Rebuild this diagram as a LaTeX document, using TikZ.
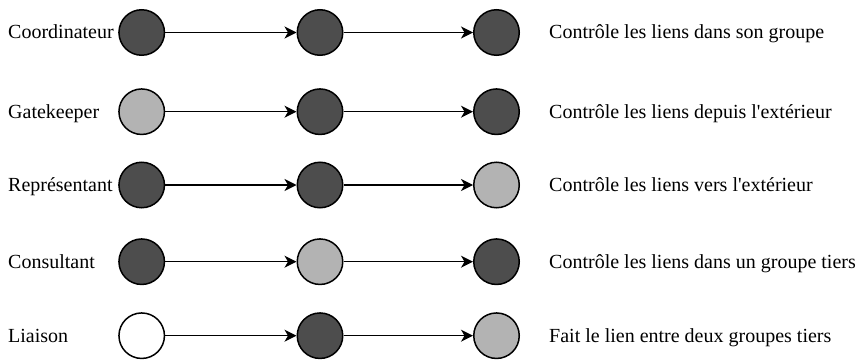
\documentclass[tikz,border=0pt]{standalone}
\usepackage{fontspec}
\setmainfont{Liberation Serif}
\usetikzlibrary{arrows.meta}
\definecolor{dk}{HTML}{4D4D4D}
\definecolor{lt}{HTML}{B3B3B3}
\begin{document}
\begin{tikzpicture}[x=1pt,y=-1pt,
  nd/.style={circle,draw=black,line width=1.5pt,minimum size=45.5pt,inner sep=0pt},
  dark/.style={nd,fill=dk},
  light/.style={nd,fill=lt},
  white/.style={nd,fill=white},
  lbl/.style={anchor=base west,inner sep=0pt,font=\fontsize{20}{24}\selectfont},
  arr/.style={-{Stealth[length=12pt,width=12pt,inset=3.5pt]},line width=1.3pt}]
\useasboundingbox (0,0) rectangle (856,361);
\def\xa{141.7}\def\xb{320}\def\xc{496.5}
% row 1
\node[dark] (a1) at (\xa,32.5) {};
\node[dark] (b1) at (\xb,32.5) {};
\node[dark] (c1) at (\xc,32.5) {};
\node[lbl] (l1) at (8,38.8) {Coordinateur};
\node[lbl] (r1) at (549,38.8) {Contrôle les liens dans son groupe};
% row 2
\node[light] (a2) at (\xa,111.7) {};
\node[dark] (b2) at (\xb,111.7) {};
\node[dark] (c2) at (\xc,111.7) {};
\node[lbl] (l2) at (8,118) {Gatekeeper};
\node[lbl] (r2) at (549,118) {Contrôle les liens depuis l\textquotesingle extérieur};
% row 3
\node[dark] (a3) at (\xa,185) {};
\node[dark] (b3) at (\xb,185) {};
\node[light] (c3) at (\xc,185) {};
\node[lbl] (l3) at (8,191.3) {Représentant};
\node[lbl] (r3) at (549,191.3) {Contrôle les liens vers l\textquotesingle extérieur};
% row 4
\node[dark] (a4) at (\xa,261.7) {};
\node[light] (b4) at (\xb,261.7) {};
\node[dark] (c4) at (\xc,261.7) {};
\node[lbl] (l4) at (8,268) {Consultant};
\node[lbl] (r4) at (549,268) {Contrôle les liens dans un groupe tiers};
% row 5
\node[white] (a5) at (\xa,335.7) {};
\node[dark] (b5) at (\xb,335.7) {};
\node[light] (c5) at (\xc,335.7) {};
\node[lbl] (l5) at (8,342) {Liaison};
\node[lbl] (r5) at (549,342) {Fait le lien entre deux groupes tiers};
\foreach \i in {1,...,5}{
  \draw[arr] (a\i) -- (b\i);
  \draw[arr] (b\i) -- (c\i);
}
\end{tikzpicture}
\end{document}
